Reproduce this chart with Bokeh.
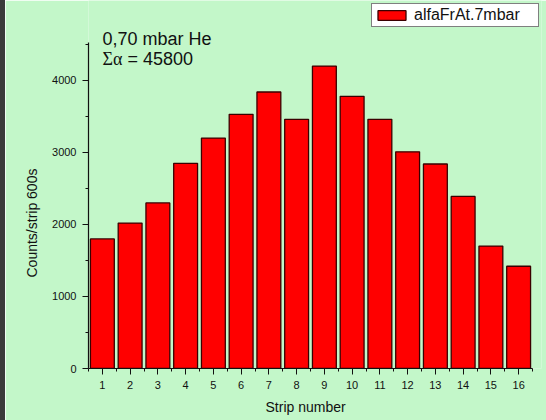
from bokeh.plotting import figure
from bokeh.models import (FixedTicker, Range1d, Legend, LegendItem, Label, Spacer, ColumnDataSource, Title)
from bokeh.layouts import row
from bokeh.embed import file_html
from bokeh.resources import INLINE

strips = list(range(1, 17))
counts = [1800, 2020, 2300, 2850, 3200, 3530, 3840, 3460, 4200, 3780, 3460, 3010, 2840, 2390, 1700, 1420]
x_ticks = list(range(1, 17))
x_minor = [i + 0.5 for i in range(0, 17)]
y_ticks = [0, 1000, 2000, 3000, 4000]
y_minor = [500, 1500, 2500, 3500, 4500]
y_axis_top = 4530
series_name = "alfaFrAt.7mbar"

BG = "#c3f7c9"
FONT = "Liberation Sans"

p = figure(width=541, height=420, output_backend="svg", toolbar_location=None,
           x_range=Range1d(0.5, 16.824), y_range=Range1d(0, 5111),
           min_border_left=83, min_border_right=5, min_border_top=0, min_border_bottom=52)
p.background_fill_color = BG
p.border_fill_color = BG
p.outline_line_color = None
p.grid.visible = False

src = ColumnDataSource(dict(x=strips, top=counts))
r = p.vbar(x="x", top="top", width=0.86, bottom=0, source=src,
           fill_color="#ff0000", line_color="#3a0000", line_width=1.3)

p.xaxis.ticker = FixedTicker(ticks=x_ticks, minor_ticks=x_minor)
p.yaxis.ticker = FixedTicker(ticks=y_ticks, minor_ticks=y_minor)
p.xaxis.bounds = (0.5, 16.5)
p.yaxis.bounds = (0, y_axis_top)
for ax in (p.xaxis[0], p.yaxis[0]):
    ax.axis_line_color = "#111111"
    ax.axis_line_width = 1.2
    ax.major_tick_line_color = "#111111"
    ax.minor_tick_line_color = "#111111"
    ax.major_tick_out = 6
    ax.major_tick_in = 0
    ax.minor_tick_out = 3
    ax.minor_tick_in = 0
    ax.major_label_text_font = FONT
    ax.major_label_text_font_size = "11px"
    ax.major_label_text_color = "#111111"
    ax.axis_label_text_font = FONT
    ax.axis_label_text_font_size = "14px"
    ax.axis_label_text_font_style = "normal"
    ax.axis_label_text_color = "#111111"
p.xaxis.major_label_standoff = 6
p.yaxis.major_label_standoff = 6

xtitle = Title(text="Strip number", align="left", offset=177,
               text_font=FONT, text_font_size="14px", text_font_style="normal",
               text_color="#111111", standoff=10)
p.add_layout(xtitle, "below")

ytitle = Title(text="Counts/strip 600s", align="left", offset=91,
               text_font=FONT, text_font_size="14px", text_font_style="normal",
               text_color="#111111", standoff=19)
p.add_layout(ytitle, "left")

legend = Legend(items=[LegendItem(label=series_name, renderers=[r])],
                location=(283, 341), orientation="vertical",
                background_fill_color="white", background_fill_alpha=1,
                border_line_color="black", border_line_width=1,
                label_text_font=FONT, label_text_font_size="16px",
                label_text_color="#111111",
                glyph_width=35, glyph_height=12, padding=2, margin=0,
                label_standoff=5, spacing=0, label_height=13, label_width=122)
p.add_layout(legend, "center")

p.add_layout(Label(x=14, y=330, x_units="screen", y_units="screen",
                   text="0,70 mbar He", text_font=FONT, text_font_size="18px",
                   text_color="#111111", text_baseline="alphabetic"))
p.add_layout(Label(x=14, y=310, x_units="screen", y_units="screen",
                   text="Σα", text_font="Liberation Serif", text_font_size="18px",
                   text_color="#111111", text_baseline="alphabetic"))
p.add_layout(Label(x=39, y=310, x_units="screen", y_units="screen",
                   text="= 45800", text_font=FONT, text_font_size="18px",
                   text_color="#111111", text_baseline="alphabetic"))

strip = Spacer(width=5, height=420, styles={"background-color": "#3b3b3b"})
layout = row(strip, p, spacing=0)

open("out.html", "w").write(file_html(layout, INLINE))
